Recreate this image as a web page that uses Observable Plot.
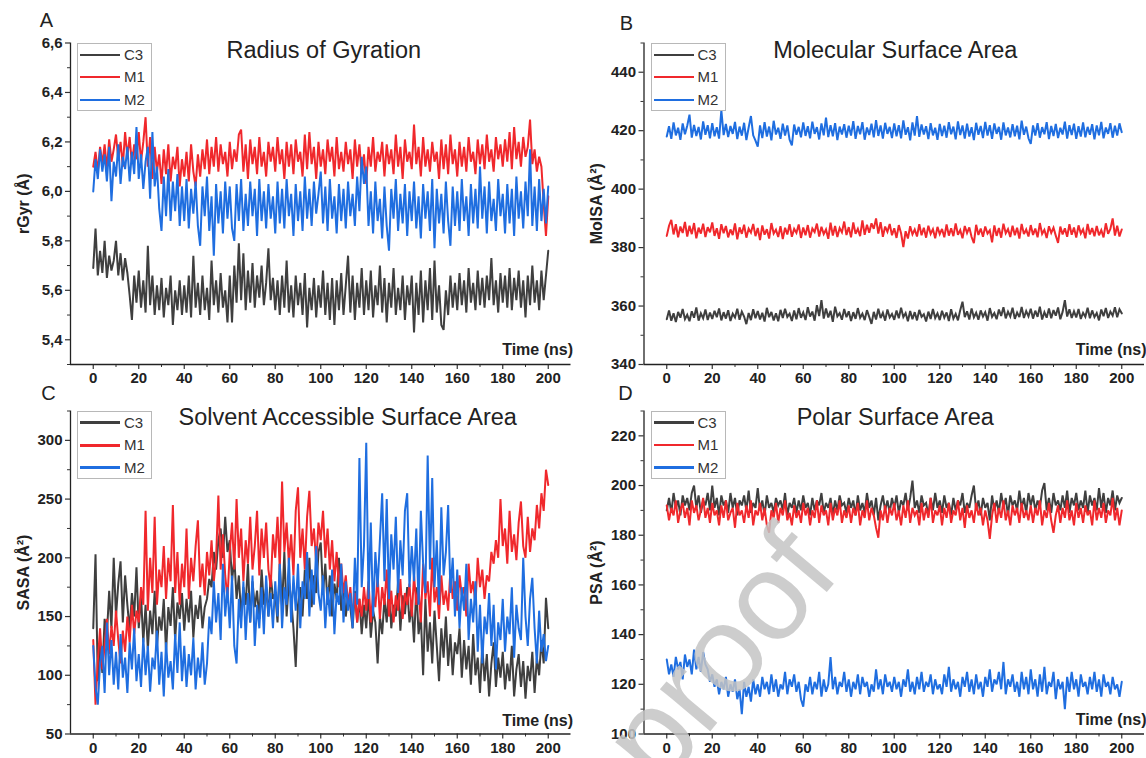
<!DOCTYPE html>
<html>
<head>
<meta charset="utf-8">
<script src="https://cdn.jsdelivr.net/npm/d3@7"></script>
<script src="https://cdn.jsdelivr.net/npm/@observablehq/plot@0.6"></script>
<style>
  html, body { margin: 0; padding: 0; background: #fff; }
  #chart { position: relative; width: 1146px; height: 758px; overflow: hidden; background: #fff;
           font-family: "Liberation Sans", Arial, sans-serif; }
  .panel { position: absolute; }
  .legend { position: absolute; border: 1px solid #b8b8b8; background: #fff; box-sizing: border-box; }
  .legend .row { position: absolute; left: 0; height: 20px; width: 100%; }
  .legend .ln { position: absolute; left: 2px; width: 40px; }
  .legend .lb { position: absolute; left: 46px; top: 1px; font-size: 15px; line-height: 18px; color: #333; }
  #wm { position: absolute; left: 0; top: 0; pointer-events: none; }
</style>
</head>
<body>
<div id="chart"></div>
<script>
// ---------- categories / tick labels ----------
const seriesNames = ["C3", "M1", "M2"];
const seriesColors = ["#3f3f3f", "#f0282c", "#1f6ee0"];
const timeTicks = [0, 20, 40, 60, 80, 100, 120, 140, 160, 180, 200];
const timeMinor = [10, 30, 50, 70, 90, 110, 130, 150, 170, 190];
const rgyrTicks = [5.4, 5.6, 5.8, 6.0, 6.2, 6.4, 6.6];
const rgyrMinor = [5.3, 5.5, 5.7, 5.9, 6.1, 6.3, 6.5];
const molsaTicks = [340, 360, 380, 400, 420, 440];
const molsaMinor = [350, 370, 390, 410, 430, 450];
const sasaTicks = [50, 100, 150, 200, 250, 300];
const sasaMinor = [75, 125, 175, 225, 275, 325];
const psaTicks = [100, 120, 140, 160, 180, 200, 220];
const psaMinor = [110, 130, 150, 170, 190, 210, 230];

// ---------- series values, one sample per ns (0..200 ns) ----------
const rgyrC3 = [
5.69,5.85,5.66,5.76,5.67,5.80,5.65,5.74,5.68,5.72,5.80,5.66,5.75,5.64,5.73,5.67,5.58,5.48,5.66,5.55,
5.68,5.53,5.64,5.51,5.78,5.54,5.66,5.50,5.62,5.52,5.65,5.49,5.61,5.54,5.66,5.46,5.60,5.52,5.64,5.50,
5.62,5.51,5.66,5.49,5.74,5.53,5.63,5.50,5.66,5.52,5.61,5.48,5.72,5.54,5.64,5.51,5.67,5.53,5.60,5.47,
5.66,5.47,5.70,5.55,5.79,5.56,5.75,5.52,5.68,5.55,5.71,5.53,5.66,5.57,5.70,5.54,5.63,5.77,5.56,5.65,
5.52,5.64,5.50,5.66,5.53,5.72,5.51,5.62,5.49,5.66,5.54,5.63,5.50,5.67,5.45,5.61,5.52,5.65,5.49,5.62,
5.53,5.68,5.50,5.63,5.48,5.65,5.46,5.64,5.52,5.67,5.50,5.62,5.74,5.51,5.66,5.48,5.63,5.53,5.69,5.50,
5.64,5.52,5.68,5.49,5.62,5.54,5.70,5.51,5.65,5.47,5.63,5.53,5.69,5.50,5.61,5.52,5.66,5.48,5.62,5.54,
5.66,5.43,5.63,5.50,5.68,5.47,5.64,5.52,5.69,5.48,5.72,5.51,5.62,5.46,5.44,5.60,5.50,5.66,5.53,5.63,
5.52,5.67,5.54,5.64,5.51,5.69,5.55,5.63,5.52,5.68,5.54,5.65,5.53,5.66,5.56,5.73,5.54,5.64,5.51,5.67,
5.55,5.66,5.53,5.69,5.52,5.65,5.56,5.68,5.53,5.64,5.49,5.66,5.54,5.70,5.55,5.64,5.52,5.68,5.56,5.66,
5.76];
const rgyrM1 = [
6.10,6.16,6.08,6.18,6.11,6.19,6.09,6.21,6.12,6.17,6.23,6.13,6.20,6.10,6.24,6.14,6.22,6.11,6.19,6.13,
6.24,6.12,6.20,6.30,6.10,6.22,6.05,6.18,6.08,6.15,6.03,6.17,6.07,6.19,6.04,6.14,6.09,6.18,6.02,6.13,
6.06,6.16,6.04,6.19,6.08,6.02,6.15,6.06,6.17,6.09,6.21,6.07,6.18,6.10,6.22,6.08,6.19,6.11,6.16,6.06,
6.20,6.09,6.17,6.12,6.23,6.25,6.08,6.19,6.05,6.21,6.11,6.18,6.07,6.22,6.10,6.16,6.06,6.20,6.12,6.18,
6.08,6.22,6.11,6.17,6.05,6.20,6.10,6.19,6.07,6.21,6.12,6.16,6.06,6.23,6.09,6.24,6.11,6.18,6.05,6.20,
6.10,6.17,6.07,6.21,6.12,6.18,6.06,6.22,6.09,6.16,6.08,6.20,6.11,6.17,6.05,6.21,6.10,6.19,6.07,6.15,
6.03,6.18,6.10,6.22,6.08,6.16,6.12,6.20,6.06,6.19,6.11,6.17,6.07,6.23,6.10,6.18,6.05,6.21,6.12,6.16,
6.09,6.27,6.11,6.18,6.06,6.22,6.10,6.17,6.08,6.20,6.12,6.16,6.05,6.21,6.09,6.19,6.07,6.23,6.11,6.17,
6.06,6.20,6.10,6.18,6.08,6.22,6.12,6.16,6.07,6.21,6.11,6.19,6.09,6.23,6.12,6.17,6.08,6.22,6.13,6.19,
6.10,6.21,6.12,6.24,6.09,6.26,6.13,6.20,6.10,6.22,6.14,6.18,6.29,6.11,6.17,6.08,6.14,6.10,5.95,5.82,
5.98];
const rgyrM2 = [
6.00,6.13,6.05,6.17,6.08,6.15,6.04,6.18,5.96,6.12,6.06,6.19,6.03,6.14,6.09,6.18,6.04,6.16,6.07,6.26,
6.05,6.15,6.01,6.12,6.18,5.97,6.24,6.02,6.10,5.93,5.84,6.06,5.90,6.09,5.88,6.04,5.92,6.07,5.86,6.02,
5.88,6.05,5.85,6.01,5.91,6.04,5.86,5.78,6.02,5.90,6.06,5.84,5.98,5.74,6.03,5.87,6.00,5.83,6.04,5.89,
6.02,5.85,5.80,6.03,5.88,6.05,5.84,5.99,5.86,6.04,5.90,6.01,5.82,6.05,5.88,6.00,5.85,6.03,5.89,5.98,
5.83,6.04,5.87,6.01,5.85,6.05,5.90,5.99,5.82,6.03,5.88,6.00,5.84,6.06,5.89,6.01,5.86,6.04,5.91,5.99,
6.08,5.87,6.02,5.84,6.05,5.89,5.98,5.83,6.03,5.88,6.01,5.85,6.04,5.90,5.99,5.86,6.06,5.92,6.14,6.03,
6.10,5.86,6.00,5.83,6.04,5.88,5.97,5.81,6.02,5.86,5.76,6.01,5.89,6.05,5.84,5.99,5.87,6.03,5.82,6.00,
5.88,6.04,5.85,5.98,5.81,6.03,5.89,6.00,5.84,6.05,5.77,6.01,5.87,5.99,5.83,6.04,5.88,5.78,6.02,5.86,
6.00,5.84,6.05,5.88,5.98,5.82,6.03,5.87,6.01,5.85,6.10,5.89,6.02,5.83,6.04,5.88,5.97,5.84,6.05,5.90,
5.99,5.83,6.03,5.87,6.01,5.82,6.06,5.89,6.00,5.85,6.04,5.90,6.17,5.86,6.02,5.84,6.05,5.88,6.01,5.87,
6.02];

const molsaC3 = [
355.5,358.5,355,357.5,354.5,358,356,359,355.5,357,354.8,358.2,356,359.5,355,357.5,355.8,358.8,355.2,357.8,
355.6,358.4,356.2,359.2,355.1,357.9,355.7,358.6,354.9,357.4,356.1,359.1,355.3,358.1,356.4,353.8,357.6,355.2,358.9,355.8,
358.3,355.4,357.7,354.7,359.4,356.2,358,355.1,357.5,354.8,358.7,355.9,359.1,356.3,357.4,354.9,358.5,355.5,359.3,356,
357.8,355.2,359.6,356.4,358.1,355,360.3,356.6,362,355.7,359.2,356.1,358.4,354.6,359.8,356.5,357.6,355.3,359,356.2,
358.2,354.9,357.9,355.6,359.3,356,357.4,355.2,358.6,356.3,353.9,358,355.4,359.1,355.9,357.7,355,358.8,356.1,357.3,
355.3,358.5,355.8,359.4,356.2,357.6,354.8,358.3,355.5,357.9,355.1,358.7,356.3,357.2,354.7,358.1,355.6,359,355.9,357.5,
355.2,358.4,356,357.8,354.9,358.9,355.7,357.3,355.1,358.6,361.5,356.2,358.2,355.4,359.2,356.1,357.7,355.3,358.5,356.4,
357.9,355,359.3,356.3,357.6,355.5,358.8,356.6,359.6,355.8,358.1,356.4,359.4,355.6,357.8,356.2,359.7,355.9,358.3,356.5,
359.1,355.7,358.4,356.3,359.8,355.4,357.9,356,359.2,355.8,358.6,356.7,359.5,355.5,358,362,356.4,358.9,355.9,358.2,
356.1,359,355.6,357.7,356.3,359.4,355.8,358.5,356.2,357.6,355.1,358.8,356.5,359.3,355.9,358.1,356.7,359.6,356.2,358.9,
357.5];
const molsaM1 = [
384,387.5,389.5,384.5,388,383.5,387.2,385,388.8,383.8,387.5,384.6,388.4,383.2,386.8,384.8,388.2,383.6,387,385.2,
388.6,384,386.6,383,388,384.9,387.4,383.5,386.2,384.3,388.3,382.8,386.9,384.7,387.8,383.4,386.5,385.1,388.1,383.9,
386.7,382.6,387.6,384.4,386.3,383.1,388.4,384.8,386.1,383.6,387.3,382.9,386.8,384.5,388,383.7,386.4,385,387.9,383.3,
386.9,384.2,387.7,383.4,386.5,385.3,388.2,383.8,387.1,384.6,386.2,383,388.5,384.1,387.4,383.6,386.7,385.2,388.9,384.3,
387,383.5,388.6,384.7,386.4,383.9,389.3,384.4,387.8,385.1,388.3,386.4,390,384.8,388.7,383.7,387.2,385.4,388.1,384.2,
386.6,383.3,387.7,384.9,380.2,385.6,383.1,387.3,384.5,386.2,383.8,388,384.2,386.8,383.4,387.5,384.7,386.3,383.2,387.1,
384.6,386.4,383.5,387.9,384.1,386.6,383.9,388.3,384.4,386,383.2,387.4,385,386.9,383.6,381.5,387.8,384.3,386.5,383.7,
387.2,384.8,385.9,381.8,387.6,384,386.7,383.4,388.2,384.9,386.3,383.6,387.5,384.2,386.8,383.1,388.1,384.6,386.2,383.8,
387.7,384.3,386.5,383.5,388.4,384.7,386.1,383.3,387.3,385,386.8,384.1,381.6,387.2,384.5,386.6,383.7,388,384.4,386.9,
383.4,387.6,384.8,386.3,383.2,388.1,384.5,386.7,383.9,387.4,384.2,386,383.5,388.3,384.7,386.4,390,384.1,387.5,383.8,
386.2];
const molsaM2 = [
418,421.5,417.2,422.8,418.4,421,416.9,422.5,418.8,421.7,425.5,417.6,422,418.2,421.3,417,423.2,418.6,421.9,417.4,
422.6,418.1,421.2,417.3,427,418.5,422.3,417.8,421.6,418.9,423,417.1,421.4,418.3,422.7,416.8,421.1,425,418.4,416.6,
414.5,421.8,417.5,422.9,418,421.4,416.7,423.4,418.7,421,417.2,422.4,418.3,421.8,416.9,415,422.1,418.6,421.3,417.7,
422.8,418.2,421.5,417.4,423.1,418.9,421.2,417,422.5,418.4,424.5,417.8,421.9,418.1,422.6,416.8,421.4,418.7,422.2,417.6,
421.7,418.3,423.3,417.2,421.6,418.8,422.9,416.9,421.1,418.5,422.4,417.7,423.6,418.2,421.8,417.3,422.7,418.9,421.3,417.5,
422.5,418.1,421.9,417.4,423.5,418.6,421.2,416.7,422.8,418.3,425,417.9,422.1,418.7,421.5,417.1,422.6,418.4,421,416.9,
422.3,418.2,421.7,417.6,422.9,418.8,421.4,417,423.2,418.5,421.8,417.3,422.4,418,421.2,416.8,422.7,418.6,421.6,417.5,
423,418.3,421.9,417.2,422.5,418.9,421.3,416.9,422.8,418.4,421.1,417.7,422.2,418.1,421.7,417,423.4,418.6,421.4,417.4,
415.5,421.8,418.3,422.6,417.6,421.2,418.8,422.9,417.1,421.6,418.2,422.3,417.5,421,418.7,423.1,417.3,421.9,418.5,422.4,
417.2,421.5,418,422.8,417.7,421.3,418.6,422.2,417,421.8,418.4,423,417.4,421.1,418.9,422.6,417.6,421.7,418.3,422.5,
419.5];

const sasaC3 = [
140,203,95,128,102,148,135,172,140,200,150,178,197,145,185,160,138,170,150,192,
140,168,128,160,122,155,135,172,125,150,138,165,120,158,142,175,130,162,148,170,
138,165,145,172,132,160,148,168,140,158,165,182,175,205,190,215,225,200,235,205,
215,180,200,165,185,150,175,160,195,145,180,158,172,148,190,160,175,150,185,165,
170,145,195,158,205,150,180,165,140,107,160,175,150,190,165,200,158,185,170,205,
213,170,195,160,185,150,178,165,200,155,175,150,168,158,140,172,145,165,135,160,
140,170,132,155,145,110,150,135,165,145,178,140,160,150,180,138,168,152,175,145,
160,128,175,135,150,100,165,120,145,110,155,125,95,140,115,150,108,135,100,128,
118,140,98,130,105,125,92,135,100,115,85,125,95,118,82,110,128,90,115,98,
120,88,110,95,125,82,105,118,90,112,80,108,95,120,85,115,100,130,110,166,
140];
const sasaM1 = [
130,75,112,140,105,125,148,118,142,125,155,130,110,138,120,150,128,160,135,155,
145,175,160,240,155,200,170,235,160,190,175,210,165,200,180,245,170,205,160,195,
175,225,165,200,180,210,232,175,195,168,205,185,215,180,200,253,190,220,185,165,
205,230,190,250,200,225,180,215,195,235,190,210,240,185,225,200,230,190,175,220,
200,235,190,265,205,230,195,220,185,240,260,200,225,190,235,257,210,225,195,230,
215,240,200,225,190,215,180,205,175,195,170,185,160,175,150,170,145,165,150,175,
155,180,145,170,158,185,148,175,160,190,150,172,145,168,155,182,148,170,160,178,
150,185,160,175,145,195,165,180,150,200,162,175,148,185,160,172,155,190,165,180,
155,185,168,175,150,195,170,180,160,200,175,190,165,185,180,205,195,215,200,250,
210,225,195,240,205,220,198,230,248,210,200,235,205,225,215,245,225,255,240,275,
262];
const sasaM2 = [
125,90,75,110,125,85,145,100,130,92,120,88,135,98,115,85,128,105,140,95,
118,90,132,100,125,86,115,105,138,92,120,82,128,98,112,88,135,102,145,95,
125,90,118,100,132,88,115,98,128,92,110,150,135,180,145,170,130,195,150,175,
140,185,125,110,165,140,180,130,170,145,185,125,160,140,175,135,185,150,170,140,
180,150,195,140,175,160,200,145,185,155,195,140,180,165,205,150,190,160,210,170,
155,185,140,175,150,190,135,170,160,195,145,180,155,170,140,200,160,285,175,210,
298,165,230,150,205,175,215,255,180,250,165,220,190,235,170,215,185,240,255,175,
210,180,225,160,240,195,170,287,190,268,175,215,160,243,185,205,245,170,200,150,
190,140,175,155,195,130,165,145,180,120,160,110,150,135,170,125,160,105,145,130,
165,120,150,135,175,115,160,140,130,200,150,125,165,183,140,110,155,120,135,112,
125];

const psaC3 = [
190,195,189,197,191,194,188,196,192,195,190,197,200,191,196,189,194,192,197,190,
200,191,195,188,196,192,194,189,197,191,195,188,194,192,196,190,198,189,193,191,
199,190,194,188,196,191,193,189,195,192,194,190,197,188,193,191,195,189,194,190,
196,191,193,188,195,190,194,192,197,189,193,191,195,188,194,190,196,192,193,189,
195,191,194,188,196,190,193,189,197,191,194,188,195,186,192,196,190,194,189,195,
191,196,189,194,192,197,190,195,202,191,194,189,196,192,193,188,195,190,197,191,
194,189,196,191,193,188,195,190,194,192,197,189,193,191,196,200,190,194,188,195,
191,193,186,196,190,194,189,197,191,195,188,196,192,194,190,198,191,195,189,197,
192,196,190,194,191,198,201,190,195,189,197,192,194,190,196,191,198,189,195,192,
197,190,194,191,198,189,196,192,195,190,199,191,197,189,195,192,198,190,196,193,
195];
const psaM1 = [
192,186,191,188,194,185,190,193,187,191,184,194,189,192,186,190,195,187,191,185,
193,188,190,184,192,187,194,186,189,191,183,193,188,190,185,192,187,194,184,190,
188,193,186,191,184,181,190,187,193,185,191,188,194,186,189,184,192,187,190,185,
193,188,191,184,190,187,194,185,192,188,190,184,193,186,191,188,194,185,190,187,
192,185,191,188,193,184,190,187,194,186,191,188,183,179,190,186,192,185,191,188,
193,186,190,184,192,187,194,185,191,188,190,184,193,186,191,187,195,185,190,188,
192,184,191,187,193,185,190,188,194,186,191,183,192,187,190,185,193,188,191,184,
190,186,178.5,188,193,185,191,187,194,186,190,184,192,188,191,185,193,187,190,186,
192,185,191,188,194,184,190,187,193,186,181,188,192,185,191,187,194,186,190,184,
193,187,191,185,192,188,190,184,194,186,191,187,193,185,190,188,195,186,191,184,
190];
const psaM2 = [
130,124,128,123,131,126,129,122,132,127,130,124,134,126,131,125,133,128,126,121,
124,119,122,116,121,118,123,115,120,117,122,114,118,108,121,115,119,113,122,116,
120,115,123,118,121,116,124,117,122,115,120,118,125,116,122,119,124,117,121,114,
111,120,117,123,116,121,118,125,115,122,117,120,131,118,123,116,121,119,125,117,
122,115,121,118,124,116,123,119,121,115,120,117,126,118,122,116,124,119,121,117,
123,118,121,115,122,119,126,117,121,116,123,118,125,117,121,119,124,116,122,118,
120,116,124,119,127,117,122,118,121,115,123,119,125,117,122,116,124,118,121,115,
123,119,126,117,122,120,125,118,129,116,122,119,124,117,121,115,125,118,123,116,
126,118,122,115,124,117,127,116,121,119,125,114,122,118,121,110,123,117,125,118,
122,115,124,119,121,116,123,118,125,117,122,115,124,119,121,116,123,118,120,115,
121];

// ---------- panels ----------
const FONT = '"Liberation Sans", Arial, sans-serif';
const commaFmt = d => d.toFixed(1).replace(".", ",");

const panels = [
  {letter: "A", left: 0, top: 0, height: 390, mL: 70, mR: 2.5, mT: 42.5, mB: 26,
   yDomain: [5.3, 6.6], yTicks: rgyrTicks, yMinor: rgyrMinor, fmt: commaFmt,
   title: "Radius of Gyration", titleDx: 3, titleDy: 7.5, ylabel: "rGyr (Å)",
   series: [rgyrC3, rgyrM1, rgyrM2], letterDx: -24, letterDy: -22, timeDy: -15, legendLine: 2},
  {letter: "B", left: 573, top: 0, height: 390, mL: 70.5, mR: 2, mT: 42.5, mB: 26,
   yDomain: [340, 450], yTicks: molsaTicks, yMinor: molsaMinor, fmt: d => String(d),
   title: "Molecular Surface Area", titleDx: 1, titleDy: 7.5, ylabel: "MolSA (Å²)",
   series: [molsaC3, molsaM1, molsaM2], letterDx: -17.5, letterDy: -19, timeDy: -15, legendLine: 2},
  {letter: "C", left: 0, top: 390, height: 368, mL: 70, mR: 2.5, mT: 20.5, mB: 24.5,
   yDomain: [50, 325], yTicks: sasaTicks, yMinor: sasaMinor, fmt: d => String(d),
   title: "Solvent Accessible Surface Area", titleDx: 27, titleDy: 6.5, ylabel: "SASA (Å²)",
   series: [sasaC3, sasaM1, sasaM2], letterDx: -22, letterDy: -17, timeDy: -13, legendLine: 3},
  {letter: "D", left: 573, top: 390, height: 368, mL: 70.5, mR: 2, mT: 20.5, mB: 24.5,
   yDomain: [100, 230], yTicks: psaTicks, yMinor: psaMinor, fmt: d => String(d),
   title: "Polar Surface Area", titleDx: 1, titleDy: 6.5, ylabel: "PSA (Å²)",
   series: [psaC3, psaM1, psaM2], letterDx: -18.5, letterDy: -17, timeDy: -14, legendLine: 2.5}
];

const chart = document.getElementById("chart");

for (const p of panels) {
  const lineMarks = p.series.map((vals, k) =>
    Plot.line(vals.map((v, i) => ({t: i, v, name: seriesNames[k]})),
      {x: "t", y: "v", stroke: seriesColors[k], strokeWidth: 2, strokeLinejoin: "miter", strokeMiterlimit: 3}));

  const svg = Plot.plot({
    width: 573, height: p.height,
    marginLeft: p.mL, marginRight: p.mR, marginTop: p.mT, marginBottom: p.mB,
    style: {fontFamily: FONT, background: "white", overflow: "visible"},
    x: {domain: [-10, 210], label: null},
    y: {domain: p.yDomain, label: null},
    marks: [
      ...lineMarks,
      Plot.axisX({ticks: timeMinor, tickSize: 3, tickFormat: () => "", label: null, stroke: "#333", strokeWidth: 1}),
      Plot.axisX({ticks: timeTicks, tickSize: 5, tickPadding: 3, label: null,
                  fontSize: 15, fontWeight: "bold", fill: "#222", stroke: "#333", strokeWidth: 1.2}),
      Plot.axisY({ticks: p.yMinor, tickSize: 3, tickFormat: () => "", label: null, stroke: "#333", strokeWidth: 1}),
      Plot.axisY({ticks: p.yTicks, tickSize: 5, tickPadding: 3, tickFormat: p.fmt, label: null,
                  fontSize: 15, fontWeight: "bold", fill: "#222", stroke: "#333", strokeWidth: 1.2}),
      Plot.ruleX([-10], {stroke: "#222", strokeWidth: 1.3}),
      Plot.ruleY([p.yDomain[0]], {stroke: "#222", strokeWidth: 1.3}),
      Plot.text([p.title], {frameAnchor: "top", dx: p.titleDx, dy: p.titleDy, lineAnchor: "middle",
                  fontSize: 23.5, fill: "#222"}),
      Plot.text([p.letter], {frameAnchor: "top-left", dx: p.letterDx, dy: p.letterDy, lineAnchor: "middle",
                  textAnchor: "middle", fontSize: 20, fill: "#222"}),
      Plot.text([p.ylabel], {frameAnchor: "left", dx: -47, rotate: -90, lineAnchor: "middle",
                  textAnchor: "middle", fontSize: 16, fontWeight: "bold", fill: "#222"}),
      Plot.text(["Time (ns)"], {frameAnchor: "bottom-right", dx: 2, dy: p.timeDy, lineAnchor: "middle",
                  textAnchor: "end", fontSize: 16, fontWeight: "bold", fill: "#222"})
    ]
  });
  const wrap = document.createElement("div");
  wrap.className = "panel";
  wrap.style.left = p.left + "px";
  wrap.style.top = p.top + "px";
  wrap.appendChild(svg);
  chart.appendChild(wrap);

  // legend box (Origin style)
  const lg = document.createElement("div");
  lg.className = "legend";
  lg.style.left = (p.left + p.mL + 7) + "px";
  lg.style.top = (p.top + p.mT) + "px";
  lg.style.width = "75px";
  lg.style.height = "68px";
  seriesNames.forEach((name, k) => {
    const row = document.createElement("div");
    row.className = "row";
    row.style.top = (1 + k * 22.5) + "px";
    const ln = document.createElement("div");
    ln.className = "ln";
    ln.style.background = seriesColors[k];
    ln.style.height = p.legendLine + "px";
    ln.style.top = (10 - p.legendLine / 2) + "px";
    const lb = document.createElement("div");
    lb.className = "lb";
    lb.textContent = name;
    row.appendChild(ln); row.appendChild(lb);
    lg.appendChild(row);
  });
  chart.appendChild(lg);
}

// watermark of the source page
const ns = "http://www.w3.org/2000/svg";
const wm = document.createElementNS(ns, "svg");
wm.setAttribute("id", "wm");
wm.setAttribute("width", 1146);
wm.setAttribute("height", 758);
const wt = document.createElementNS(ns, "text");
wt.setAttribute("transform", "translate(842,574) rotate(-50)");
wt.setAttribute("text-anchor", "end");
wt.setAttribute("font-family", FONT);
wt.setAttribute("font-size", 124);
wt.setAttribute("fill", "#c4c4c4");
wt.setAttribute("fill-opacity", 0.85);
wt.textContent = "proof";
wm.appendChild(wt);
chart.appendChild(wm);
</script>
</body>
</html>
